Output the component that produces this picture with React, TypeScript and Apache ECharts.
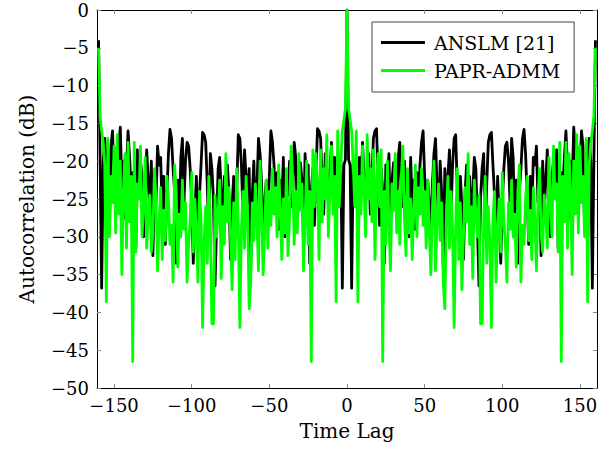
import React, { useEffect, useRef } from "react";
import * as echarts from "echarts";

// Autocorrelation (dB) for lags 0..160; the curve is symmetric in the lag.
const anslmHalf = [
  0, -19.8, -20.5, -36.8, -19.8, -23.5, -20.5, -28, -19.5, -24.5,
  -17.5, -22, -25.5, -21, -19, -27, -22.5, -17, -16, -15.7,
  -22, -28.5, -21, -24, -33.5, -20.5, -23, -19, -30, -22.5,
  -20.2, -21.5, -26.5, -19.5, -17.5, -25, -26, -20, -24.5, -22,
  -30, -19.5, -26, -22.5, -29, -21.5, -26.5, -20.5, -17.5, -16,
  -22, -27.5, -22.5, -25.5, -29.5, -23, -19, -17, -23.5, -28,
  -20, -24.5, -34, -21, -25.5, -22, -18.5, -27, -20.5, -17,
  -16.5, -23.5, -30, -22, -26, -33, -24.5, -20.5, -26, -22,
  -30.5, -24, -19.5, -21, -28.5, -36.5, -25, -21, -19, -30,
  -23, -17.5, -16.5, -16.2, -20.5, -24.5, -30.5, -22, -27.5, -33.5,
  -25.5, -21, -18, -17.5, -20, -25.5, -17, -19.5, -29, -22.5,
  -33.5, -24, -21, -17, -15.8, -19, -24.5, -31, -22, -27,
  -19.5, -20.5, -18, -25.5, -23.5, -32.5, -20, -27, -22.5, -18.5,
  -25, -30, -22, -20, -24, -18.5, -31.5, -26, -21.5, -24,
  -19.5, -16, -21, -27.5, -20, -23.5, -15.5, -18.5, -25, -20,
  -22, -16, -18, -29, -24, -20.5, -17, -20, -36.8, -19.8, -4,
];

const paprAdmmHalf = [
  0, -13, -14.5, -16, -20.5, -26, -16, -38.6, -22, -27,
  -18, -24, -30, -16.5, -25, -21, -28, -18.5, -33, -23,
  -19, -26, -18.5, -46.5, -24, -31, -20, -28, -34.5, -23,
  -26.5, -19, -29.5, -24, -31, -22, -18, -27.5, -32.5, -21,
  -29.5, -25, -33, -26.5, -20.5, -30, -23.5, -27, -21, -28.5,
  -24, -31.5, -22.5, -29, -35, -26.5, -20, -34.5, -28, -23,
  -30.5, -25.5, -36, -39.5, -27, -22, -31.5, -24, -29, -42,
  -28.5, -21, -33, -25.5, -37, -30, -23.5, -28, -19, -31,
  -26, -35.5, -22.5, -27, -30, -24.5, -41.5, -41.5, -28, -22,
  -33.5, -26, -30.5, -42, -27.5, -24, -36, -29, -25, -32,
  -21.5, -28, -31, -36, -25.5, -29, -22.5, -30, -27, -34,
  -24, -20.5, -36, -28.5, -31, -25, -22, -30.5, -26.5, -33,
  -23.5, -28, -34.5, -25, -21, -29.5, -32, -24.5, -27, -31.5,
  -19.5, -26, -30, -18, -25, -23, -32, -17.5, -46.5, -22,
  -28, -17.5, -31.5, -19, -24, -35, -20, -27, -16.5, -29.5,
  -18, -25.5, -22, -30, -17, -38.6, -20.5, -17.5, -16, -14, -5,
];

const xTicks = [-150, -100, -50, 0, 50, 100, 150];
const seriesNames = ["ANSLM [21]", "PAPR-ADMM"];

function mirror(half: number[]): number[][] {
  const n = half.length - 1;
  const out: number[][] = [];
  for (let k = -n; k <= n; k++) out.push([k, half[Math.abs(k)]]);
  return out;
}

const FONT = "DejaVu Serif";
const fmt = (v: number) => String(v).replace("-", "\u2212");

export default function App() {
  const ref = useRef<HTMLDivElement>(null);
  useEffect(() => {
    if (!ref.current) return;
    const chart = echarts.init(ref.current, null, { renderer: "svg" });
    const axisLine = { show: true, onZero: false, lineStyle: { color: "#000", width: 1 } };
    chart.setOption({
      animation: false,
      backgroundColor: "#fff",
      grid: { left: 97, right: 14, top: 10, bottom: 61, containLabel: false },
      legend: {
        orient: "vertical",
        left: 372,
        top: 22,
        padding: [11, 14, 12, 9],
        itemGap: 9,
        itemWidth: 44,
        itemHeight: 3,
        icon: "rect",
        borderColor: "#444",
        borderWidth: 1,
        backgroundColor: "#fff",
        textStyle: { fontFamily: FONT, fontSize: 19, color: "#000", padding: [0, 0, 0, 4] },
        data: seriesNames,
      },
      xAxis: [
        {
          type: "value",
          min: -161,
          max: 161,
          name: "Time Lag",
          nameLocation: "middle",
          nameGap: 33,
          nameTextStyle: { fontFamily: FONT, fontSize: 20, color: "#000" },
          axisLine,
          splitLine: { show: false },
          axisTick: { inside: true, length: 4, customValues: xTicks, lineStyle: { color: "#888" } },
          axisLabel: {
            customValues: xTicks,
            formatter: fmt,
            fontFamily: FONT,
            fontSize: 18,
            color: "#000",
            margin: 8,
          },
        },
        {
          type: "value",
          min: -161,
          max: 161,
          position: "top",
          axisLine,
          splitLine: { show: false },
          axisTick: { inside: true, length: 4, customValues: xTicks, lineStyle: { color: "#888" } },
          axisLabel: { show: false },
        },
      ],
      yAxis: [
        {
          type: "value",
          min: -50,
          max: 0,
          interval: 5,
          name: "Autocorrelation (dB)",
          nameLocation: "middle",
          nameGap: 60,
          nameTextStyle: { fontFamily: FONT, fontSize: 20, color: "#000" },
          axisLine,
          splitLine: { show: false },
          axisTick: { inside: true, length: 4, lineStyle: { color: "#888" } },
          axisLabel: { formatter: fmt, fontFamily: FONT, fontSize: 18, color: "#000", margin: 8 },
        },
        {
          type: "value",
          min: -50,
          max: 0,
          interval: 5,
          position: "right",
          axisLine,
          splitLine: { show: false },
          axisTick: { inside: true, length: 4, lineStyle: { color: "#888" } },
          axisLabel: { show: false },
        },
      ],
      series: [
        {
          name: seriesNames[0],
          type: "line",
          data: mirror(anslmHalf),
          symbol: "none",
          color: "#000000",
          lineStyle: { color: "#000000", width: 2.8, join: "round" },
          z: 2,
        },
        {
          name: seriesNames[1],
          type: "line",
          data: mirror(paprAdmmHalf),
          symbol: "none",
          color: "#00ff00",
          lineStyle: { color: "#00ff00", width: 2.8, join: "round" },
          z: 3,
        },
      ],
    });
    return () => chart.dispose();
  }, []);
  return (
    <div
      ref={ref}
      style={{ position: "absolute", left: 0, top: 0, width: 611, height: 449 }}
    />
  );
}
